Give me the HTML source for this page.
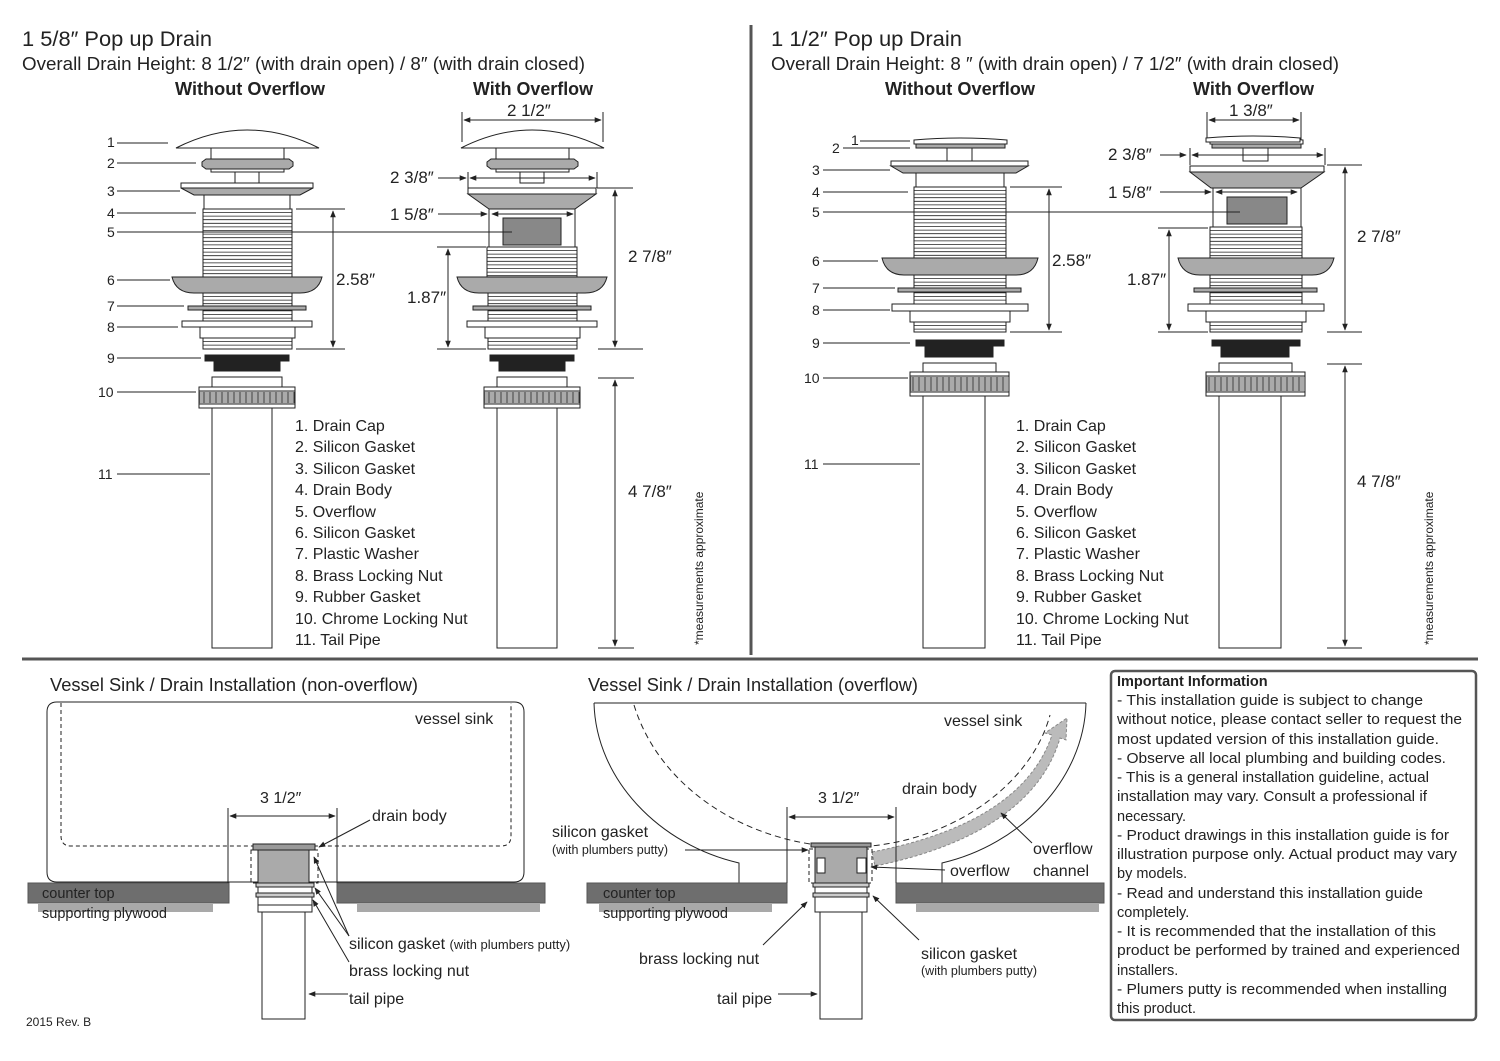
<!DOCTYPE html>
<html><head><meta charset="utf-8"><style>
html,body{margin:0;padding:0;background:#fff}
svg{display:block}
text{font-family:"Liberation Sans",sans-serif;fill:#222}
.n{font-size:14px}
.lg{font-size:16px}
.d{font-size:17px}
.s{font-size:16px}
.ib{font-size:14.5px}
</style></head><body>
<svg id="svg" width="1500" height="1061" viewBox="0 0 1500 1061" xmlns="http://www.w3.org/2000/svg">
<defs>
<marker id="a" viewBox="0 0 10 10" refX="9" refY="5" markerWidth="7" markerHeight="7" orient="auto-start-reverse"><path d="M0,1 L10,5 L0,9 Z" fill="#222"/></marker>
</defs>
<g id="g"></g>

<line x1="751" y1="25" x2="751" y2="655" stroke="#555" stroke-width="3"/>
<line x1="22" y1="659" x2="1478" y2="659" stroke="#555" stroke-width="3"/>

<text x="22" y="46" style="font-size:21px" textLength="190" lengthAdjust="spacingAndGlyphs">1 5/8″ Pop up Drain</text>
<text x="22" y="70" style="font-size:18px" textLength="563" lengthAdjust="spacingAndGlyphs">Overall Drain Height: 8 1/2″  (with drain open)  /  8″ (with drain closed)</text>
<text x="175" y="95" style="font-size:18px;font-weight:bold" textLength="150" lengthAdjust="spacingAndGlyphs">Without Overflow</text>
<text x="473" y="95" style="font-size:18px;font-weight:bold" textLength="120" lengthAdjust="spacingAndGlyphs">With Overflow</text>

<text x="771" y="46" style="font-size:21px" textLength="191" lengthAdjust="spacingAndGlyphs">1 1/2″ Pop up Drain</text>
<text x="771" y="70" style="font-size:18px" textLength="568" lengthAdjust="spacingAndGlyphs">Overall Drain Height: 8 ″  (with drain open)  /  7 1/2″ (with drain closed)</text>
<text x="885" y="95" style="font-size:18px;font-weight:bold" textLength="150" lengthAdjust="spacingAndGlyphs">Without Overflow</text>
<text x="1193" y="95" style="font-size:18px;font-weight:bold" textLength="121" lengthAdjust="spacingAndGlyphs">With Overflow</text>

<g class="n">
<text x="107" y="147">1</text><text x="107" y="168">2</text><text x="107" y="196">3</text><text x="107" y="218">4</text><text x="107" y="237">5</text><text x="107" y="285">6</text><text x="107" y="311">7</text><text x="107" y="332">8</text><text x="107" y="363">9</text><text x="98" y="397">10</text><text x="98" y="479">11</text>
<text x="851" y="145">1</text><text x="832" y="153">2</text><text x="812" y="175">3</text><text x="812" y="197">4</text><text x="812" y="217">5</text><text x="812" y="266">6</text><text x="812" y="293">7</text><text x="812" y="315">8</text><text x="812" y="348">9</text><text x="804" y="383">10</text><text x="804" y="469">11</text>
</g>

<g class="lg">
<text x="295" y="431">1. Drain Cap</text><text x="295" y="452">2. Silicon Gasket</text><text x="295" y="474">3. Silicon Gasket</text><text x="295" y="495">4. Drain Body</text><text x="295" y="517">5. Overflow</text><text x="295" y="538">6. Silicon Gasket</text><text x="295" y="559">7. Plastic Washer</text><text x="295" y="581">8. Brass Locking Nut</text><text x="295" y="602">9. Rubber Gasket</text><text x="295" y="624">10. Chrome Locking Nut</text><text x="295" y="645">11. Tail Pipe</text>
<text x="1016" y="431">1. Drain Cap</text><text x="1016" y="452">2. Silicon Gasket</text><text x="1016" y="474">3. Silicon Gasket</text><text x="1016" y="495">4. Drain Body</text><text x="1016" y="517">5. Overflow</text><text x="1016" y="538">6. Silicon Gasket</text><text x="1016" y="559">7. Plastic Washer</text><text x="1016" y="581">8. Brass Locking Nut</text><text x="1016" y="602">9. Rubber Gasket</text><text x="1016" y="624">10. Chrome Locking Nut</text><text x="1016" y="645">11. Tail Pipe</text>
</g>

<g class="d">
<text x="336" y="285">2.58″</text>
<text x="407" y="303">1.87″</text>
<text x="628" y="262">2 7/8″</text>
<text x="628" y="497">4 7/8″</text>
<text x="390" y="183">2 3/8″</text>
<text x="390" y="220">1 5/8″</text>
<text x="507" y="116">2 1/2″</text>
<text x="1052" y="266">2.58″</text>
<text x="1127" y="285">1.87″</text>
<text x="1357" y="242">2 7/8″</text>
<text x="1357" y="487">4 7/8″</text>
<text x="1108" y="160">2 3/8″</text>
<text x="1108" y="198">1 5/8″</text>
<text x="1229" y="116">1 3/8″</text>
</g>
<text transform="translate(703,645) rotate(-90)" style="font-size:12px">*measurements approximate</text>
<text transform="translate(1433,645) rotate(-90)" style="font-size:12px">*measurements approximate</text>

<text x="50" y="691" style="font-size:18px" textLength="368" lengthAdjust="spacingAndGlyphs">Vessel Sink / Drain Installation (non-overflow)</text>
<text x="588" y="691" style="font-size:18px" textLength="330" lengthAdjust="spacingAndGlyphs">Vessel Sink / Drain Installation (overflow)</text>
<g class="s">
<text x="415" y="724">vessel sink</text>
<text x="260" y="803">3 1/2″</text>
<text x="372" y="821">drain body</text>
<text x="42" y="898" style="font-size:14.5px">counter top</text>
<text x="42" y="918" style="font-size:14.5px">supporting plywood</text>
<text x="349" y="949">silicon gasket <tspan style="font-size:13px">(with plumbers putty)</tspan></text>
<text x="349" y="976">brass locking nut</text>
<text x="349" y="1004">tail pipe</text>

<text x="944" y="726">vessel sink</text>
<text x="818" y="803">3 1/2″</text>
<text x="902" y="794">drain body</text>
<text x="552" y="837">silicon gasket</text>
<text x="552" y="854" style="font-size:12.5px">(with plumbers putty)</text>
<text x="603" y="898" style="font-size:14.5px">counter top</text>
<text x="603" y="918" style="font-size:14.5px">supporting plywood</text>
<text x="1033" y="854">overflow</text>
<text x="1033" y="876">channel</text>
<text x="950" y="876">overflow</text>
<text x="639" y="964">brass locking nut</text>
<text x="921" y="959">silicon gasket</text>
<text x="921" y="975" style="font-size:12.5px">(with plumbers putty)</text>
<text x="717" y="1004">tail pipe</text>
</g>
<text x="26" y="1026" style="font-size:12px">2015 Rev. B</text>

<rect x="1111" y="671" width="365" height="349" rx="4" fill="none" stroke="#555" stroke-width="2.5"/>
<g class="ib">
<text x="1117" y="686" style="font-weight:bold">Important Information</text>
<text x="1117" y="705" textLength="306" lengthAdjust="spacingAndGlyphs">- This installation guide is subject to change</text>
<text x="1117" y="724" textLength="345" lengthAdjust="spacingAndGlyphs">without notice, please contact seller to request the</text>
<text x="1117" y="744" textLength="322" lengthAdjust="spacingAndGlyphs">most updated version of this installation guide.</text>
<text x="1117" y="763" textLength="329" lengthAdjust="spacingAndGlyphs">- Observe all local plumbing and building codes.</text>
<text x="1117" y="782" textLength="312" lengthAdjust="spacingAndGlyphs">- This is a general installation guideline, actual</text>
<text x="1117" y="801" textLength="310" lengthAdjust="spacingAndGlyphs">installation may vary. Consult a professional if</text>
<text x="1117" y="821">necessary.</text>
<text x="1117" y="840" textLength="332" lengthAdjust="spacingAndGlyphs">- Product drawings in this installation guide is for</text>
<text x="1117" y="859" textLength="340" lengthAdjust="spacingAndGlyphs">illustration purpose only. Actual product may vary</text>
<text x="1117" y="878">by models.</text>
<text x="1117" y="898" textLength="306" lengthAdjust="spacingAndGlyphs">- Read and understand this installation guide</text>
<text x="1117" y="917">completely.</text>
<text x="1117" y="936" textLength="319" lengthAdjust="spacingAndGlyphs">- It is recommended that the installation of this</text>
<text x="1117" y="955" textLength="343" lengthAdjust="spacingAndGlyphs">product be performed by trained and experienced</text>
<text x="1117" y="975">installers.</text>
<text x="1117" y="994" textLength="330" lengthAdjust="spacingAndGlyphs">- Plumers putty is recommended when installing</text>
<text x="1117" y="1013">this product.</text>
</g>
</svg>
<script>
(function(){
var NS="http://www.w3.org/2000/svg";
var root=document.getElementById('g');
var cur=root;
function el(t,a,p){var e=document.createElementNS(NS,t);for(var k in a)e.setAttribute(k,a[k]);(p||cur).appendChild(e);return e;}
function R(x1,y1,x2,y2,f,extra){var a={x:x1,y:y1,width:x2-x1,height:y2-y1,fill:f||'#fff',stroke:'#222','stroke-width':1};if(extra)for(var k in extra)a[k]=extra[k];return el('rect',a);}
function P(d,f,extra){var a={d:d,fill:f||'none',stroke:'#222','stroke-width':1};if(extra)for(var k in extra)a[k]=extra[k];return el('path',a);}
function L(x1,y1,x2,y2,extra){var a={x1:x1,y1:y1,x2:x2,y2:y2,stroke:'#222','stroke-width':1};if(extra)for(var k in extra)a[k]=extra[k];return el('line',a);}
function Th(x1,x2,y1,y2){R(x1,y1,x2,y2,'#fff');for(var y=y1+3.5;y<y2-1;y+=3.6){L(x1,y,x2,y,{'stroke-width':0.8});}}
function K(x1,y1,x2,y2){R(x1,y1,x2,y2,'#fff');R(x1,y1+4,x2,y2-4,'#ddd');for(var x=x1+1;x<x2;x+=2){L(x,y1+5,x,y2-5,{'stroke-width':(x%6<2)?1.2:0.6,stroke:'#333'});}}
var AR={'marker-end':'url(#a)'};var AR2={'marker-end':'url(#a)','marker-start':'url(#a)'};

function leftDrain(dx,ov){
 cur=el('g',{transform:'translate('+dx+',0)'},root);
 P('M176,148 Q247,112 319,148 Z','#fff');
 R(211,148,284,172);
 P('M202,162 L206,159 L289,159 L293,162 L293,166 L289,169 L206,169 L202,166 Z','#aaa');
 R(235,172,259,183);
 if(!ov){
  R(181,183,313,188);P('M181,188 L313,188 L300,195 L194,195 Z','#aaa');
  R(204,195,290,209);Th(203,292,209,277);
 } else {
  R(183,188,311,194);P('M183,194 L311,194 L290,209 L204,209 Z','#aaa');
  R(204,209,290,247);R(218,218,276,245,'#888');Th(202,292,247,277);
 }
 P('M172,277 L322,277 Q318,293 300,293 L194,293 Q176,293 172,277Z','#aaa');
 Th(203,292,293,321);R(188,306,306,310,'#aaa');
 R(182,321,312,327);R(200,327,295,338);Th(203,292,338,349);
 R(205,355,289,361,'#222');R(214,361,280,371,'#222');
 R(212,377,282,387);K(199,387,295,408);
 R(212,408,272,648);
 cur=root;
}
function rightDrain(dx,ov){
 cur=el('g',{transform:'translate('+dx+',0)'},root);
 P('M914,144 L914,140 Q960,136 1007,140 L1007,144 Z','#fff');
 R(916,144,1005,148,'#aaa');
 R(947,148,972,161);
 if(!ov){
  R(891,161,1028,166);P('M891,166 L1028,166 L1016,173 L903,173 Z','#aaa');
  R(916,173,1004,187);Th(914,1006,187,258);
 } else {
  R(894,166,1028,172);P('M894,172 L1028,172 L1005,188 L915,188 Z','#aaa');
  R(917,188,1005,227);R(931,197,991,224,'#888');Th(914,1006,227,258);
 }
 P('M882,258 L1038,258 Q1034,275 1016,275 L904,275 Q886,275 882,258Z','#aaa');
 Th(914,1006,275,304);R(898,288,1021,292,'#aaa');
 R(892,304,1028,311);R(910,311,1010,322);Th(914,1006,322,332);
 R(916,340,1004,346,'#222');R(925,346,993,357,'#222');
 R(923,363,996,372);K(910,372,1009,396);
 R(923,396,985,648);
 cur=root;
}
leftDrain(0,false);leftDrain(285,true);
rightDrain(0,false);rightDrain(296,true);

[[117,143,168],[117,163,196],[117,191,180],[117,213,196],[117,232,512],[117,280,170],[117,306,184],[117,327,178],[117,358,201],[117,392,196],[117,474,210]].forEach(function(a){L(a[0],a[1],a[2],a[1]);});
[[860,141,910],[843,148,910],[823,170,890],[823,192,908],[823,212,1240],[823,261,878],[823,288,895],[823,310,890],[823,343,910],[823,378,908],[823,464,920]].forEach(function(a){L(a[0],a[1],a[2],a[1]);});

L(296,209,345,209);L(296,349,345,349);L(333,211,333,347,AR2);
L(437,247,486,247);L(437,349,486,349);L(448,249,448,347,AR2);
L(597,188,633,188);L(598,349,643,349);L(615,190,615,347,AR2);
L(598,378,634,378);L(598,648,634,648);L(615,380,615,646,AR2);
L(462,112,462,142);L(603,112,603,142);L(464,120,601,120,AR2);
L(468,172,468,188);L(597,172,597,188);L(470,178,595,178,AR2);L(438,178,466,178,AR);
L(492,214,573,214,AR2);L(438,214,487,214,AR);
L(1010,187,1062,187);L(1010,332,1062,332);L(1049,189,1049,330,AR2);
L(1158,228,1208,228);L(1158,332,1208,332);L(1169,230,1169,330,AR2);
L(1327,165,1362,165);L(1327,332,1362,332);L(1345,167,1345,330,AR2);
L(1327,364,1362,364);L(1327,648,1362,648);L(1345,366,1345,646,AR2);
L(1207,112,1207,140);L(1301,112,1301,140);L(1209,120,1299,120,AR2);
P('M1206,142 L1206,138 Q1253,134 1300,138 L1300,142 Z','#fff');
L(1190,148,1190,165);L(1325,148,1325,165);L(1192,155,1323,155,AR2);L(1160,155,1186,155,AR);
L(1216,192,1297,192,AR2);L(1160,192,1211,192,AR);

P('M47,712 Q47,702 57,702 L514,702 Q524,702 524,712 L524,872 Q524,882 514,882 L57,882 Q47,882 47,872 Z','#fff');
P('M61,703 L61,836 Q61,846 71,846 L501,846 Q511,846 511,836 L511,703','none',{'stroke-dasharray':'4,3'});
R(28,883,229,903,'#6e6e6e',{stroke:'#555'});R(337,883,545,903,'#6e6e6e',{stroke:'#555'});
R(38,903,213,912,'#a9a9a9',{stroke:'none'});R(357,903,540,912,'#a9a9a9',{stroke:'none'});
L(228,808,228,883);L(337,808,337,883);L(230,816,335,816,AR2);
R(251,850,318,883,'none',{'stroke-dasharray':'4,3'});
R(253,844,315,850,'#999');R(258,850,309,883,'#aaa');
R(256,883,314,887,'#ccc');R(258,887,312,893);R(256,893,314,897,'#ccc');R(258,897,312,905);R(258,905,312,912);
R(262,912,305,1019);
L(370,820,319,847,AR);
L(349,936,314,857,AR);L(349,936,315,888,AR);L(349,962,313,900,AR);L(348,994,309,994,AR);

P('M594,703 L1086,703');
P('M594,703 C596,780 660,845 739,863 L739,883');
P('M1086,703 C1084,780 1020,845 942,863 L942,883');
P('M634,705 C660,790 750,845 844,847 C940,849 1030,790 1050,715','none',{'stroke-dasharray':'6,4'});
P('M872,852 C960,835 1030,800 1052,735 L1045,733 L1067,718 L1066,740 L1060,738 C1040,808 965,848 875,866 Z','#bbb',{'stroke':'#888','stroke-dasharray':'3,2'});
R(587,883,787,903,'#6e6e6e',{stroke:'#555'});R(896,883,1104,903,'#6e6e6e',{stroke:'#555'});
R(599,903,772,912,'#a9a9a9',{stroke:'none'});R(916,903,1099,912,'#a9a9a9',{stroke:'none'});
L(787,807,787,883);L(896,807,896,883);L(789,817,894,817,AR2);
R(809,849,872,883,'none',{'stroke-dasharray':'4,3'});
R(811,843,871,847,'#999');R(815,847,867,883,'#aaa');
R(817,858,825,873,'#fff');R(857,858,866,873,'#fff');
R(813,883,869,887,'#ccc');R(815,887,867,893);R(813,893,869,897,'#ccc');R(815,897,867,912);
R(820,912,862,1019);
L(685,850,808,850,AR);
L(945,870,871,867,AR);
L(1032,843,1001,813,AR);
L(763,945,807,902,AR);
L(919,940,873,896,AR);
L(778,994,817,994,AR);
})();
</script>
</body></html>
